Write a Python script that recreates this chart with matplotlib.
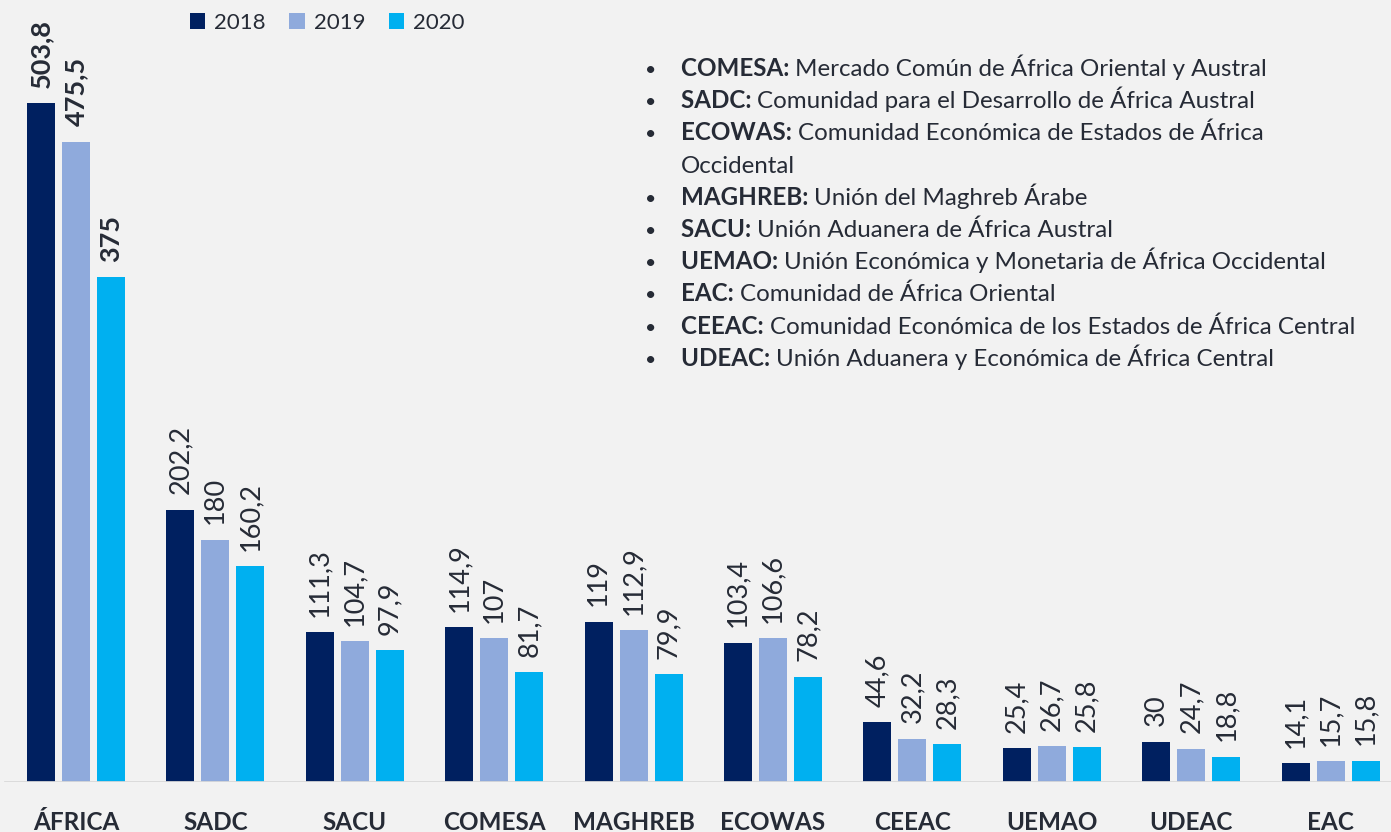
import numpy as np
import matplotlib
matplotlib.use("Agg")
import matplotlib.pyplot as plt
from matplotlib.transforms import blended_transform_factory

# Data
regions = ["ÁFRICA", "SADC", "SACU", "COMESA", "MAGHREB", "ECOWAS",
           "CEEAC", "UEMAO", "UDEAC", "EAC"]
years = ["2018", "2019", "2020"]
v2018 = [503.8, 202.2, 111.3, 114.9, 119, 103.4, 44.6, 25.4, 30, 14.1]
v2019 = [475.5, 180, 104.7, 107, 112.9, 106.6, 32.2, 26.7, 24.7, 15.7]
v2020 = [375, 160.2, 97.9, 81.7, 79.9, 78.2, 28.3, 25.8, 18.8, 15.8]
series = [v2018, v2019, v2020]

glossary_abbr = ["COMESA:", "SADC:", "ECOWAS:", "", "MAGHREB:", "SACU:",
                 "UEMAO:", "EAC:", "CEEAC:", "UDEAC:"]
glossary_text = [
    "Mercado Común de África Oriental y Austral",
    "Comunidad para el Desarrollo de África Austral",
    "Comunidad Económica de Estados de África",
    "Occidental",
    "Unión del Maghreb Árabe",
    "Unión Aduanera de África Austral",
    "Unión Económica y Monetaria de África Occidental",
    "Comunidad de África Oriental",
    "Comunidad Económica de los Estados de África Central",
    "Unión Aduanera y Económica de África Central",
]

colors = ["#002060", "#8FAADC", "#00B0F0"]
bg = "#F2F2F2"
txt = "#262B36"

plt.rcParams["font.family"] = ["Lato", "DejaVu Sans"]

W, H = 1391, 832
fig = plt.figure(figsize=(W / 100, H / 100), dpi=100, facecolor=bg)
ax = fig.add_axes([0, (H - 782) / H, 1, 782 / H])
ax.set_facecolor(bg)

pitch = 139.4
x0 = 76
ax.set_xlim(-x0 / pitch, (W - x0) / pitch)
ax.set_ylim(0, 782 / 1.347)

x = np.arange(len(regions))
bw = 0.2
step = 35 / pitch
for k, (vals, yr, c) in enumerate(zip(series, years, colors)):
    bars = ax.bar(x + (k - 1) * step, vals, bw, color=c, label=yr, zorder=2)
    labels = [f"{v:g}".replace(".", ",") for v in vals]
    bl = ax.bar_label(bars, labels=labels, rotation=90, padding=11,
                      fontsize=19.5, color=txt)
    bl[0].set_fontweight("bold")

ax.axhline(0, xmin=5 / W, xmax=1, color="#D9D9D9", lw=2, zorder=3)
for s in ax.spines.values():
    s.set_visible(False)
ax.set_xticks([])
ax.set_yticks([])

# category labels
tr = blended_transform_factory(ax.transData, fig.transFigure)
for i, r in enumerate(regions):
    ax.text(i, 1 - 830 / H, r, transform=tr, ha="center", va="baseline",
            fontsize=17.5, fontweight="bold", color=txt)

# legend
ax.legend(loc="upper left", bbox_to_anchor=(181 / W, 1 - 4 / 782),
          ncol=3, frameon=False, fontsize=16, handlelength=0.7,
          handleheight=0.7, handletextpad=0.4, columnspacing=1.05,
          labelcolor=txt, borderaxespad=0)

# glossary
base = 76
fs = 17.4
for j, (ab, tx) in enumerate(zip(glossary_abbr, glossary_text)):
    yb = base + j * 32.2
    if ab:
        fig.text(645 / W, 1 - yb / H, "•", fontsize=14, color=txt,
                 va="baseline", ha="left")
        tb = fig.text(681 / W, 1 - yb / H, ab + " ", fontsize=fs,
                      fontweight="bold", color=txt, va="baseline", ha="left")
        ax.annotate(tx, xy=(1, H - yb), xycoords=(tb, "figure pixels"),
                    fontsize=fs, color=txt, va="baseline", ha="left",
                    annotation_clip=False)
    else:
        fig.text(681 / W, 1 - yb / H, tx, fontsize=fs, color=txt,
                 va="baseline", ha="left")

fig.savefig("out.png", dpi=100, facecolor=bg)
